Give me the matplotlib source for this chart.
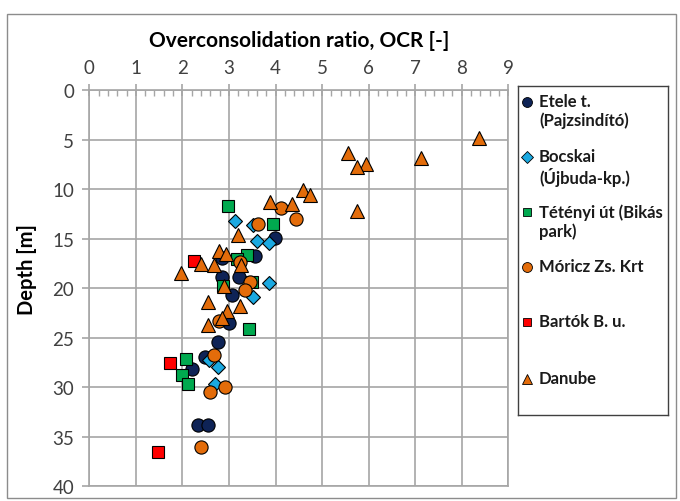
import matplotlib.pyplot as plt
from matplotlib.ticker import MultipleLocator
from matplotlib.patches import Rectangle

plt.rcParams['font.family'] = ['Lato', 'DejaVu Sans']

# OCR [-] and depth [m] per site
etele_ocr = [3.99, 3.56, 2.85, 2.84, 3.22, 3.06, 2.99, 2.77, 2.49, 2.20, 2.33, 2.54]
etele_z = [14.9, 16.75, 16.9, 18.9, 18.9, 20.65, 23.5, 25.4, 26.9, 28.2, 33.8, 33.8]

bocskai_ocr = [3.14, 3.52, 3.60, 3.87, 3.85, 3.52, 2.58, 2.76, 2.70]
bocskai_z = [13.2, 13.6, 15.2, 15.4, 19.5, 20.9, 27.2, 28.0, 29.7]

teteny_ocr = [2.97, 3.95, 3.38, 3.17, 3.49, 2.88, 3.42, 2.07, 2.00, 2.13]
teteny_z = [11.7, 13.5, 16.65, 17.05, 19.4, 19.75, 24.1, 27.15, 28.75, 29.7]

moricz_ocr = [4.12, 4.43, 3.63, 3.24, 3.45, 3.34, 2.79, 2.67, 2.92, 2.59, 2.41]
moricz_z = [11.9, 13.0, 13.5, 17.3, 19.4, 20.15, 23.3, 26.7, 29.95, 30.5, 36.0]

bartok_ocr = [2.25, 1.73, 1.48]
bartok_z = [17.2, 27.5, 36.5]

danube_ocr = [8.37, 5.56, 7.12, 5.94, 5.74, 4.58, 4.74, 3.88, 4.36, 5.74, 3.20, 2.79,
              2.94, 2.40, 2.68, 3.26, 1.98, 2.90, 2.54, 3.24, 2.95, 2.86, 2.56]
danube_z = [4.8, 6.35, 6.8, 7.45, 7.8, 10.05, 10.55, 11.3, 11.5, 12.2, 14.6, 16.2,
            16.55, 17.55, 17.7, 17.65, 18.5, 19.8, 21.4, 21.8, 22.3, 23.05, 23.7]

series = [
    ("Etele t.\n(Pajzsindító)", etele_ocr, etele_z, 'o', '#0E2356', 9.5),
    ("Bocskai\n(Újbuda-kp.)", bocskai_ocr, bocskai_z, 'D', '#1BA9E1', 7.5),
    ("Tétényi út (Bikás\npark)", teteny_ocr, teteny_z, 's', '#00A94F', 8.5),
    ("Móricz Zs. Krt", moricz_ocr, moricz_z, 'o', '#E36C0A', 9.5),
    ("Bartók B. u.", bartok_ocr, bartok_z, 's', '#FF0000', 8.5),
    ("Danube", danube_ocr, danube_z, '^', '#E36C0A', 10.5),
]

W, H = 680, 502
fig = plt.figure(figsize=(W / 100, H / 100), dpi=100)

# outer chart border
fig.patches.append(Rectangle((7 / W, 3 / H), 669 / W, (H - 18) / H, transform=fig.transFigure,
                             fill=False, edgecolor='#8C8C8C', lw=1.0))

ax = fig.add_axes([89.3 / W, 1 - 487.3 / H, 419 / W, 396.1 / H])
for name, x, z, m, c, ms in series:
    ax.plot(x, z, linestyle='none', marker=m, ms=ms, mfc=c, mec='black', mew=0.8)

ax.set_xlim(0, 9)
ax.set_ylim(40, 0)
ax.xaxis.tick_top()
ax.xaxis.set_label_position('top')
ax.xaxis.set_major_locator(MultipleLocator(1))
ax.xaxis.set_minor_locator(MultipleLocator(0.2))
ax.yaxis.set_major_locator(MultipleLocator(5))
ax.grid(True, which='major', color='#A6A6A6', lw=1.2)
ax.set_axisbelow(True)
for s in ax.spines.values():
    s.set_color('#A6A6A6')
    s.set_linewidth(1.2)
ax.tick_params(axis='x', which='major', direction='inout', length=9, width=1.2,
               color='#A6A6A6', labelsize=13.5, pad=6, labelcolor='#404040')
ax.tick_params(axis='x', which='minor', direction='in', length=4, width=1.0, color='#A6A6A6')
ax.tick_params(axis='y', which='major', direction='out', length=5, width=1.2,
               color='#A6A6A6', labelsize=13.5, pad=6, labelcolor='#404040')
ax.set_xlabel('Overconsolidation ratio, OCR [-]', fontsize=15, fontweight='bold', labelpad=9)
ax.set_ylabel('Depth [m]', fontsize=14.5, fontweight='bold', labelpad=4)
ax.yaxis.set_label_coords(-0.125, 0.55)

# legend box drawn by hand so markers sit on the first text line
lg = fig.add_axes([518 / W, 1 - 416 / H, 150 / W, 329 / H])
lg.set_xlim(0, 150)
lg.set_ylim(329, 0)
lg.set_xticks([])
lg.set_yticks([])
for s in lg.spines.values():
    s.set_color('#404040')
    s.set_linewidth(1.0)
rows = [16, 71, 126, 181, 236, 293]
for (name, x, z, m, c, ms), yy in zip(series, rows):
    lg.plot([9], [yy], linestyle='none', marker=m, ms=ms * 0.75, mfc=c, mec='black', mew=0.6)
    lg.text(21, yy - 9, name, fontsize=12, fontweight='bold', va='top', ha='left',
            linespacing=1.2, color='#1A1A1A')

fig.savefig('out.png', dpi=100)
